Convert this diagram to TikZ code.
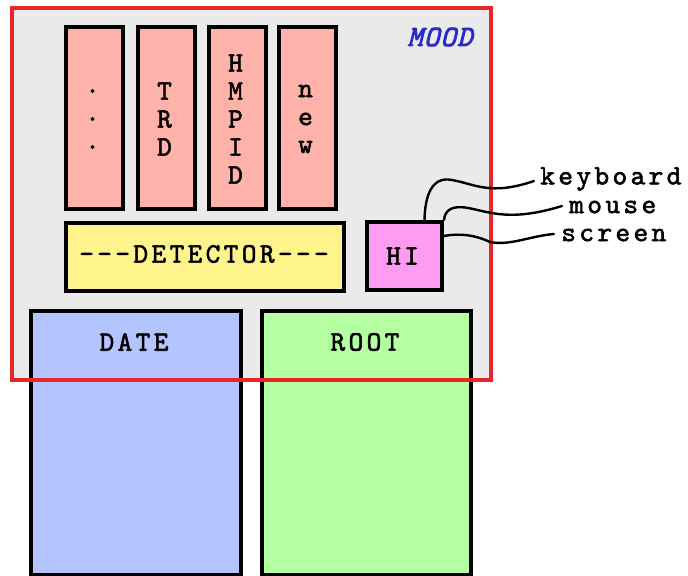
\documentclass[tikz,border=0pt]{standalone}
\usepackage{fontspec}
\definecolor{moodbg}{HTML}{EAEAEA}
\definecolor{subdet}{HTML}{FFB2AA}
\definecolor{detyel}{HTML}{FFF38C}
\definecolor{himag}{HTML}{FF9CF2}
\definecolor{dateblue}{HTML}{B4C4FF}
\definecolor{rootgreen}{HTML}{B4FFA2}
\definecolor{moodred}{HTML}{E8262A}
\definecolor{moodblue}{HTML}{2A2ACC}
\newfontfamily\courf[LetterSpace=12,FakeBold=2]{lmmono10-regular.otf}
\newfontfamily\courfi[FakeBold=3,LetterSpace=4]{lmmono10-italic.otf}
\begin{document}
\begin{tikzpicture}[x=0.75pt,y=-0.75pt,
  box/.style={draw=black,line width=3pt,inner sep=0pt,anchor=north west},
  lbl/.style={font=\courf\fontsize{21}{21}\selectfont,inner sep=0pt},
  wire/.style={draw=black,line width=1.8pt,line cap=round}]
\useasboundingbox (0,0) rectangle (688,575);
% MOOD area
\fill[moodbg] (12,8) rectangle (491,380);
\node[font=\courfi\fontsize{22}{22}\selectfont,text=moodblue,inner sep=0pt] (mood) at (440,37) {MOOD};
% sub-detector boxes
\node[box,fill=subdet,minimum width=42.75pt,minimum height=136.5pt] (b1) at (64,25) {};
\node[box,fill=subdet,minimum width=42.75pt,minimum height=136.5pt] (b2) at (136,25) {};
\node[box,fill=subdet,minimum width=42.75pt,minimum height=136.5pt] (b3) at (207,25) {};
\node[box,fill=subdet,minimum width=42.75pt,minimum height=136.5pt] (b4) at (277,25) {};
\node[lbl,align=center] (t1) at (92.5,119) {.\\.\\.};
\node[lbl,align=center] (t2) at (164.5,119) {T\\R\\D};
\node[lbl,align=center] (t3) at (235.5,119) {H\\M\\P\\I\\D};
\node[lbl,align=center] (t4) at (305.5,119) {n\\e\\w};
% detector
\node[box,fill=detyel,minimum width=208.5pt,minimum height=51pt] (det) at (64,221) {};
\node[lbl] (dett) at (204,254) {-{}-{}-DETECTOR-{}-{}-};
% HI
\node[box,fill=himag,minimum width=56.25pt,minimum height=51pt] (hi) at (365,220) {};
\node[lbl] (hit) at (402.5,256) {HI};
% DATE and ROOT
\node[box,fill=dateblue,minimum width=157.5pt,minimum height=198pt] (date) at (29,309) {};
\node[box,fill=rootgreen,minimum width=156.75pt,minimum height=198pt] (root) at (260,309) {};
\node[lbl] (datet) at (134,342) {DATE};
\node[lbl] (roott) at (365,342) {ROOT};
% MOOD frame
\draw[moodred,line width=2.4pt] (12,8) rectangle (491,380);
% labels
\node[lbl,anchor=west] (kb) at (540,179) {keyboard};
\node[lbl,anchor=west] (ms) at (569,207) {mouse};
\node[lbl,anchor=west] (sc) at (561,235) {screen};
\coordinate (kbe) at (534,181);
\coordinate (mse) at (562,206);
\coordinate (sce) at (554,234);
\draw[wire] (hi.north)++(20,0) coordinate (hia)
  .. controls (425,195) and (432,176) .. (452,180)
  .. controls (475,184) and (490,196) .. (kbe);
\draw[wire] (hi.north east)
  .. controls (445,210) and (452,205) .. (468,208)
  .. controls (490,212) and (510,222) .. (mse);
\draw[wire] (hi.east)++(0,-20) coordinate (hib)
  .. controls (460,233) and (475,235) .. (490,242)
  .. controls (510,246) and (530,236) .. (sce);
\end{tikzpicture}
\end{document}
